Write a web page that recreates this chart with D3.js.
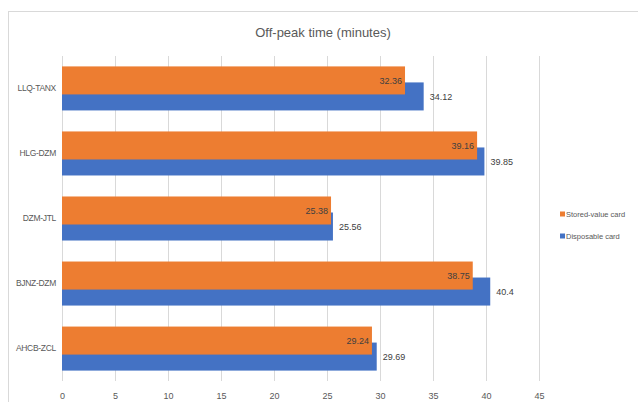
<!DOCTYPE html>
<html>
<head>
<meta charset="utf-8">
<script src="https://cdn.jsdelivr.net/npm/d3@7"></script>
<style>
  html, body { margin: 0; padding: 0; background: #fff; }
  svg { display: block; font-family: "Liberation Sans", Arial, sans-serif; }
</style>
</head>
<body>
<svg id="chart" width="638" height="402"></svg>
<script>
// Routes, top to bottom
const routes = ["LLQ-TANX", "HLG-DZM", "DZM-JTL", "BJNZ-DZM", "AHCB-ZCL"];
// Off-peak travel time in minutes
const storedValue = [32.36, 39.16, 25.38, 38.75, 29.24];
const disposable = [34.12, 39.85, 25.56, 40.4, 29.69];
const seriesNames = ["Stored-value card", "Disposable card"];
const xTicks = [0, 5, 10, 15, 20, 25, 30, 35, 40, 45];

const colors = { stored: "#ED7D31", disposable: "#4472C4" };
const textColor = "#595959";

const svg = d3.select("#chart");

// chart area frame
svg.append("rect")
  .attr("x", 8.5).attr("y", 11.5)
  .attr("width", 660).attr("height", 420)
  .attr("fill", "#fff").attr("stroke", "#D9D9D9");

const plot = { left: 62, right: 539, top: 56, bottom: 381 };

const x = d3.scaleLinear().domain([0, 45]).range([plot.left, plot.right]);
const y = d3.scaleBand().domain(routes).range([plot.top, plot.bottom]).paddingInner(0.323).paddingOuter(0.16);

const bw = y.bandwidth();
const barH = bw * 28 / 44;
const offset = bw - barH;

// vertical gridlines
svg.append("g").selectAll("line").data(xTicks).join("line")
  .attr("x1", d => x(d) + 0.5).attr("x2", d => x(d) + 0.5)
  .attr("y1", plot.top).attr("y2", plot.bottom)
  .attr("stroke", "#D9D9D9").attr("stroke-width", 1);

// x axis tick labels
const xAxis = d3.axisBottom(x).tickValues(xTicks).tickSize(0).tickPadding(0);
const gx = svg.append("g").attr("transform", `translate(0, ${plot.bottom + 12})`).call(xAxis);
gx.select(".domain").remove();
gx.selectAll("text")
  .attr("font-family", "Liberation Sans, Arial, sans-serif")
  .attr("font-size", 9).attr("fill", textColor);

// category labels
const yAxis = d3.axisLeft(y).tickSize(0).tickPadding(6);
const gy = svg.append("g").attr("transform", `translate(${plot.left}, 0)`).call(yAxis);
gy.select(".domain").remove();
gy.selectAll("text")
  .attr("font-family", "Liberation Sans, Arial, sans-serif")
  .attr("font-size", 8.5).attr("fill", textColor)
  .attr("letter-spacing", -0.3);

const rows = routes.map((r, i) => ({ route: r, stored: storedValue[i], disp: disposable[i] }));

// disposable card bars (drawn underneath)
svg.append("g").selectAll("rect").data(rows).join("rect")
  .attr("x", x(0)).attr("y", d => y(d.route) + offset)
  .attr("width", d => x(d.disp) - x(0)).attr("height", barH)
  .attr("fill", colors.disposable);

// stored-value card bars
svg.append("g").selectAll("rect").data(rows).join("rect")
  .attr("x", x(0)).attr("y", d => y(d.route))
  .attr("width", d => x(d.stored) - x(0)).attr("height", barH)
  .attr("fill", colors.stored);

// value labels
svg.append("g").selectAll("text").data(rows).join("text")
  .attr("x", d => x(d.stored) - 3).attr("y", d => y(d.route) + barH / 2)
  .attr("dy", "0.35em").attr("text-anchor", "end")
  .attr("font-size", 9).attr("fill", "#404040")
  .text(d => d.stored);

svg.append("g").selectAll("text").data(rows).join("text")
  .attr("x", d => x(d.disp) + 6).attr("y", d => y(d.route) + offset + barH / 2)
  .attr("dy", "0.35em").attr("text-anchor", "start")
  .attr("font-size", 9).attr("fill", "#404040")
  .text(d => d.disp);

// title
svg.append("text")
  .attr("x", 323).attr("y", 32).attr("dy", "0.35em")
  .attr("text-anchor", "middle")
  .attr("font-size", 13).attr("fill", textColor)
  .text("Off-peak time (minutes)");

// legend
const legend = svg.append("g").attr("transform", "translate(560, 0)");
const legendItems = [
  { name: seriesNames[0], color: colors.stored, y: 214 },
  { name: seriesNames[1], color: colors.disposable, y: 236 }
];
legend.selectAll("rect").data(legendItems).join("rect")
  .attr("x", 0).attr("y", d => d.y - 2.5)
  .attr("width", 5).attr("height", 5)
  .attr("fill", d => d.color);
legend.selectAll("text").data(legendItems).join("text")
  .attr("x", 6).attr("y", d => d.y).attr("dy", "0.35em")
  .attr("font-size", 7.5).attr("fill", textColor)
  .text(d => d.name);
</script>
</body>
</html>
